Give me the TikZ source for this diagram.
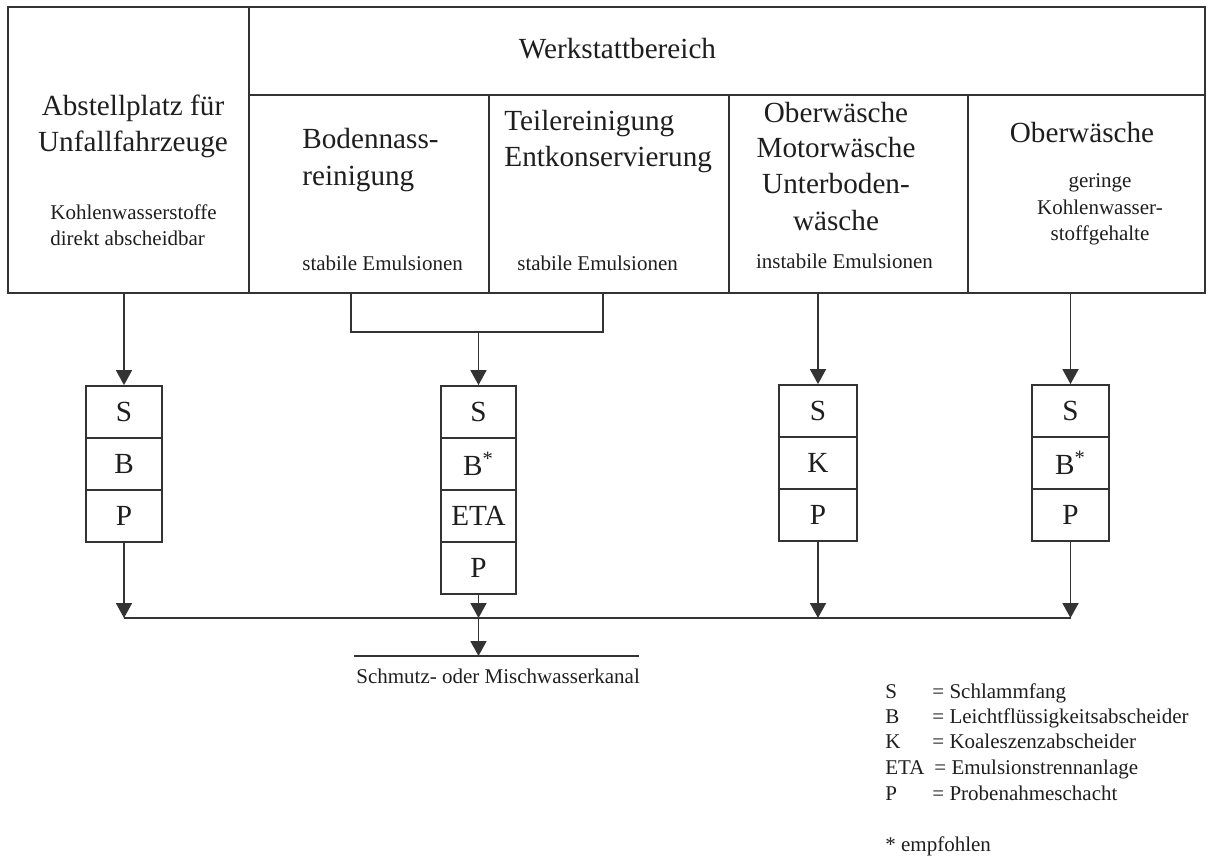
\documentclass[tikz,border=0pt]{standalone}
\usepackage{fontspec}
\setmainfont{Liberation Serif}
\usetikzlibrary{arrows.meta,fit}
\definecolor{ink}{HTML}{333333}
\definecolor{txt}{HTML}{1E1E1E}
\begin{document}
\begin{tikzpicture}[x=0.5pt,y=-0.5pt,
  every node/.style={text=txt},
  frame/.style={draw=ink, line width=0.9pt, inner sep=0pt, fit={#1}},
  cell/.style={draw=ink, line width=0.9pt, inner sep=0pt, minimum height=26pt,
    minimum width=#1, font=\fontsize{14.6}{18}\selectfont},
  big/.style={inner sep=0pt, font=\fontsize{14.6}{18}\selectfont},
  small/.style={inner sep=0pt, font=\fontsize{10.5}{13}\selectfont},
  conn/.style={draw=ink, line width=0.9pt},
  arr/.style={conn, -{Triangle[width=8pt,length=7.5pt]}}
]
\useasboundingbox (0,0) rectangle (1208,861);

% upper frame: areas of the site
\node[frame={(8,7) (249,293)}] (abst) {};
\node[frame={(249,7) (1205,95)}] (werk) {};
\node[frame={(249,95) (489,293)}] (boden) {};
\node[frame={(489,95) (729,293)}] (teile) {};
\node[frame={(729,95) (968,293)}] (ober1) {};
\node[frame={(968,95) (1205,293)}] (ober2) {};

% texts (base anchor = baseline of the last line)
\node[big, anchor=base] (tWerk) at (617.5,59) {Werkstattbereich};
\node[big, anchor=base, align=center] (tAbst) at (133,152) {Abstellplatz für\\Unfallfahrzeuge};
\node[small, anchor=base west, align=left] (sAbst) at (50,245) {Kohlenwasserstoffe\\direkt abscheidbar};
\node[big, anchor=base west, align=left] (tBoden) at (302,185) {Bodennass-\\reinigung};
\node[small, anchor=base west] (sBoden) at (302,270) {stabile Emulsionen};
\node[big, anchor=base west, align=left] (tTeile) at (504,167) {Teilereinigung\\Entkonservierung};
\node[small, anchor=base west] (sTeile) at (517,270) {stabile Emulsionen};
\node[big, anchor=base, align=center] (tOber1) at (836,230) {Oberwäsche\\Motorwäsche\\Unterboden-\\wäsche};
\node[small, anchor=base] (sOber1) at (844.5,268) {instabile Emulsionen};
\node[big, anchor=base] (tOber2) at (1082,143) {Oberwäsche};
\node[small, anchor=base, align=center] (sOber2) at (1100,240) {geringe\\Kohlenwasser-\\stoffgehalte};

% separator chains
\node[cell=38pt] (a1) at (124,412) {S};
\node[cell=38pt] (a2) at (124,464) {B};
\node[cell=38pt] (a3) at (124,516) {P};

\node[cell=37.5pt] (b1) at (478.5,412) {S};
\node[cell=37.5pt] (b2) at (478.5,464) {B\textsuperscript{*}};
\node[cell=37.5pt] (b3) at (478.5,516) {ETA};
\node[cell=37.5pt] (b4) at (478.5,568) {P};

\node[cell=39pt] (c1) at (818,411) {S};
\node[cell=39pt] (c2) at (818,463) {K};
\node[cell=39pt] (c3) at (818,515) {P};

\node[cell=38.5pt] (d1) at (1070.5,411) {S};
\node[cell=38.5pt] (d2) at (1070.5,463) {B\textsuperscript{*}};
\node[cell=38.5pt] (d3) at (1070.5,515) {P};

% inflows
\draw[arr] (a1.north |- abst.south) -- (a1.north);
\coordinate (jL) at (351,332);
\coordinate (jR) at (603,332);
\coordinate (jM) at (b1.north |- jL);
\draw[conn] (jL |- boden.south) -- (jL) -- (jR) -- (jR |- teile.south);
\draw[arr] (jM) -- (b1.north);
\draw[arr] (c1.north |- ober1.south) -- (c1.north);
\draw[arr] (d1.north |- ober2.south) -- (d1.north);

% collecting line and sewer
\coordinate (mL) at (124,618);
\coordinate (mR) at (1070.5,618);
\draw[conn] (mL) -- (mR);
\draw[arr] (a3.south) -- (a3.south |- mL);
\draw[arr] (b4.south) -- (b4.south |- mL);
\draw[arr] (c3.south) -- (c3.south |- mL);
\draw[arr] (d3.south) -- (d3.south |- mL);

\coordinate (kL) at (354,656);
\coordinate (kR) at (639,656);
\draw[conn] (kL) -- (kR);
\draw[arr] (b4.south |- mL) -- (b4.south |- kL);
\node[small, anchor=base west] (kanal) at (356,683) {Schmutz- oder Mischwasserkanal};

% key
\node[small, anchor=base west] (kS) at (885,698) {S};
\node[small, anchor=base west] (kSt) at (932,698) {= Schlammfang};
\node[small, anchor=base west] (kB) at (885,723) {B};
\node[small, anchor=base west] (kBt) at (932,723) {= Leichtflüssigkeitsabscheider};
\node[small, anchor=base west] (kK) at (885,748) {K};
\node[small, anchor=base west] (kKt) at (932,748) {= Koaleszenzabscheider};
\node[small, anchor=base west] (kE) at (885,774) {ETA};
\node[small, anchor=base west] (kEt) at (934,774) {= Emulsionstrennanlage};
\node[small, anchor=base west] (kP) at (885,800) {P};
\node[small, anchor=base west] (kPt) at (932,800) {= Probenahmeschacht};
\node[small, anchor=base west] (kStar) at (885,851) {* empfohlen};
\end{tikzpicture}
\end{document}
